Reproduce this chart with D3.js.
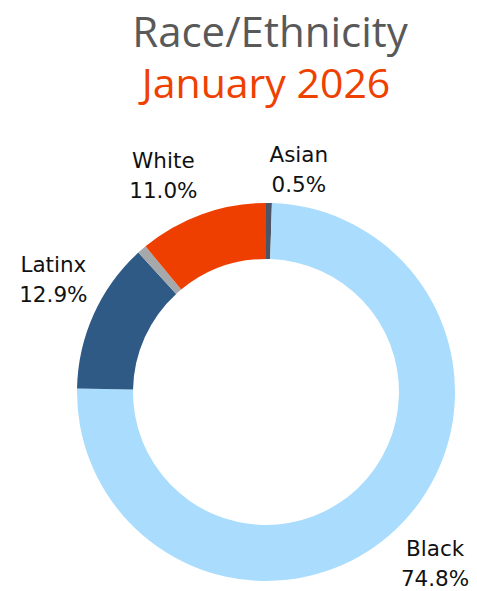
<!DOCTYPE html>
<html>
<head>
<meta charset="utf-8">
<script src="https://cdn.jsdelivr.net/npm/d3@7"></script>
<style>
  body { margin: 0; background: #fff; }
  text { font-family: "Open Sans", sans-serif; }
  .label text { font-family: "DejaVu Sans", sans-serif; }
</style>
</head>
<body>
<div id="chart"></div>
<script>
// data, clockwise from 12 o'clock
let groups = ['Asian', 'Black', 'Latinx', 'Other', 'White'],
    shares = [0.5, 74.8, 12.9, 0.8, 11.0],
    colors = ['#4b5565', '#a9dcfd', '#2e5a85', '#a6a9ac', '#ee3f00'],
    labelled = ['Asian', 'Black', 'Latinx', 'White'];

let width = 477,
    height = 591,
    cx = 266,
    cy = 392,
    outerR = 189,
    innerR = 133,
    labelR = 241;

let svg = d3.select('#chart').append('svg')
    .attr('width', width)
    .attr('height', height);

svg.append('text')
    .attr('x', 270)
    .attr('y', 47)
    .attr('text-anchor', 'middle')
    .attr('font-size', 42)
    .attr('fill', '#595959')
    .text('Race/Ethnicity');

svg.append('text')
    .attr('x', 266)
    .attr('y', 98)
    .attr('text-anchor', 'middle')
    .attr('font-size', 41)
    .attr('fill', '#ee4100')
    .text('January 2026');

let data = groups.map((g, i) => ({group: g, value: shares[i], color: colors[i]}));

let pie = d3.pie()
    .value(d => d.value)
    .sort(null);

let arc = d3.arc()
    .innerRadius(innerR)
    .outerRadius(outerR);

let labelArc = d3.arc()
    .innerRadius(labelR)
    .outerRadius(labelR);

let g = svg.append('g')
    .attr('transform', `translate(${cx}, ${cy})`);

let arcs = pie(data);

g.selectAll('path')
    .data(arcs)
    .join('path')
    .attr('d', arc)
    .attr('fill', d => d.data.color);

// nudges off the centroid, like the hand-placed labels in the original
let nudge = {Asian: [29, 16], Black: [3, -6], Latinx: [7, -16], White: [-21, 8]};

let labels = g.selectAll('g.label')
    .data(arcs.filter(d => labelled.includes(d.data.group)))
    .join('g')
    .attr('class', 'label')
    .attr('transform', d => {
        let [x, y] = labelArc.centroid(d);
        let n = nudge[d.data.group];
        return `translate(${x + n[0]}, ${y + n[1]})`;
    });

labels.append('text')
    .attr('text-anchor', 'middle')
    .attr('y', -5)
    .attr('font-size', 21.5)
    .attr('fill', '#111')
    .text(d => d.data.group);

labels.append('text')
    .attr('text-anchor', 'middle')
    .attr('y', 25)
    .attr('font-size', 21.5)
    .attr('fill', '#111')
    .text(d => d.data.value.toFixed(1) + '%');
</script>
</body>
</html>
